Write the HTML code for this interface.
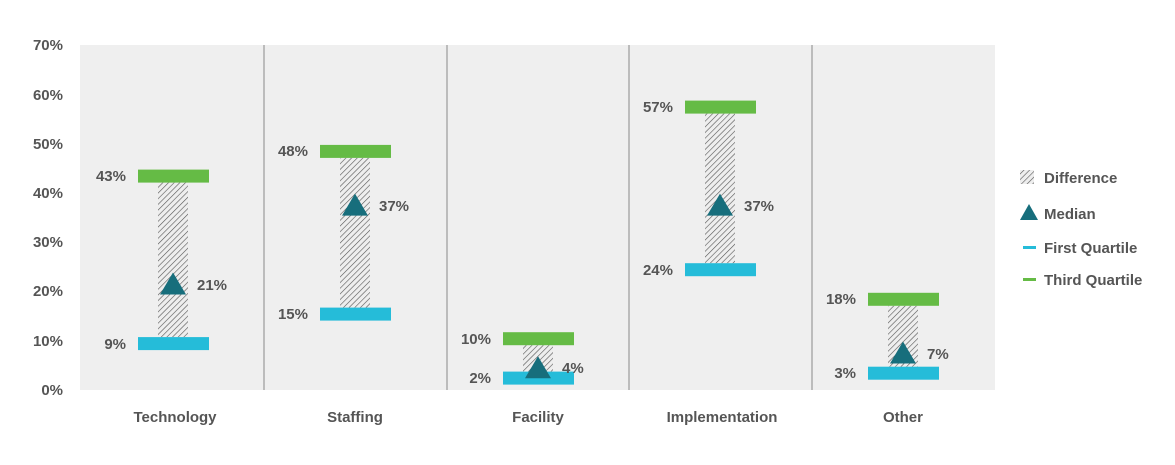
<!DOCTYPE html>
<html><head><style>
body{margin:0;background:#fff;}
svg text{font-family:"Liberation Sans",sans-serif;font-weight:bold;fill:#555;font-size:15px;}
</style></head><body>
<svg width="1175" height="460" xmlns="http://www.w3.org/2000/svg">
<defs>
<pattern id="h" width="4" height="4" patternUnits="userSpaceOnUse" patternTransform="rotate(45)">
<rect width="4" height="4" fill="#eee"/><line x1="0" y1="0" x2="0" y2="4" stroke="#555" stroke-width="1.2"/>
</pattern>
</defs>
<rect x="80" y="45" width="915" height="345" fill="#efefef"/>
<g stroke="#888" stroke-width="1">
<line x1="264" y1="45" x2="264" y2="390"/><line x1="447" y1="45" x2="447" y2="390"/>
<line x1="629" y1="45" x2="629" y2="390"/><line x1="812" y1="45" x2="812" y2="390"/>
</g>
<g text-anchor="end">
<text x="63" y="395">0%</text><text x="63" y="346">10%</text><text x="63" y="296">20%</text>
<text x="63" y="247">30%</text><text x="63" y="198">40%</text><text x="63" y="149">50%</text>
<text x="63" y="100">60%</text><text x="63" y="50">70%</text>
</g>
<g text-anchor="middle">
<text x="175" y="422">Technology</text><text x="355" y="422">Staffing</text>
<text x="538" y="422">Facility</text><text x="722" y="422">Implementation</text>
<text x="903" y="422">Other</text>
</g>

<!-- Technology -->
<rect x="158" y="182.6" width="30" height="154.5" fill="url(#h)"/>
<rect x="138" y="169.6" width="71" height="13" fill="#65bb45"/>
<rect x="138" y="337.1" width="71" height="13" fill="#25bcd9"/>
<polygon points="160,294.5 186,294.5 173,272.5" fill="#176e7c"/>
<text x="126" y="181" text-anchor="end">43%</text>
<text x="126" y="349" text-anchor="end">9%</text>
<text x="197" y="290">21%</text>

<!-- Staffing -->
<rect x="340" y="157.9" width="30" height="149.7" fill="url(#h)"/>
<rect x="320" y="144.9" width="71" height="13" fill="#65bb45"/>
<rect x="320" y="307.6" width="71" height="13" fill="#25bcd9"/>
<polygon points="342,215.6 368,215.6 355,193.6" fill="#176e7c"/>
<text x="308" y="156" text-anchor="end">48%</text>
<text x="308" y="319" text-anchor="end">15%</text>
<text x="379" y="211">37%</text>

<!-- Facility -->
<rect x="523" y="345.2" width="30" height="26.4" fill="url(#h)"/>
<rect x="503" y="332.2" width="71" height="13" fill="#65bb45"/>
<rect x="503" y="371.6" width="71" height="13" fill="#25bcd9"/>
<polygon points="525,378.3 551,378.3 538,356.3" fill="#176e7c"/>
<text x="491" y="344" text-anchor="end">10%</text>
<text x="491" y="383" text-anchor="end">2%</text>
<text x="562" y="373">4%</text>

<!-- Implementation -->
<rect x="705" y="113.6" width="30" height="149.6" fill="url(#h)"/>
<rect x="685" y="100.6" width="71" height="13" fill="#65bb45"/>
<rect x="685" y="263.2" width="71" height="13" fill="#25bcd9"/>
<polygon points="707,215.6 733,215.6 720,193.6" fill="#176e7c"/>
<text x="673" y="112" text-anchor="end">57%</text>
<text x="673" y="275" text-anchor="end">24%</text>
<text x="744" y="211">37%</text>

<!-- Other -->
<rect x="888" y="305.8" width="30" height="60.9" fill="url(#h)"/>
<rect x="868" y="292.8" width="71" height="13" fill="#65bb45"/>
<rect x="868" y="366.7" width="71" height="13" fill="#25bcd9"/>
<polygon points="890,363.5 916,363.5 903,341.5" fill="#176e7c"/>
<text x="856" y="304" text-anchor="end">18%</text>
<text x="856" y="378" text-anchor="end">3%</text>
<text x="927" y="359">7%</text>

<g>
<rect x="1020" y="170" width="14" height="14" fill="url(#h)"/>
<text x="1044" y="183">Difference</text>
<polygon points="1020,220 1038,220 1029,204" fill="#176e7c"/>
<text x="1044" y="219">Median</text>
<rect x="1023" y="246" width="13" height="3" fill="#25bcd9"/>
<text x="1044" y="253">First Quartile</text>
<rect x="1023" y="278" width="13" height="3" fill="#65bb45"/>
<text x="1044" y="285">Third Quartile</text>
</g>
</svg>
</body></html>
